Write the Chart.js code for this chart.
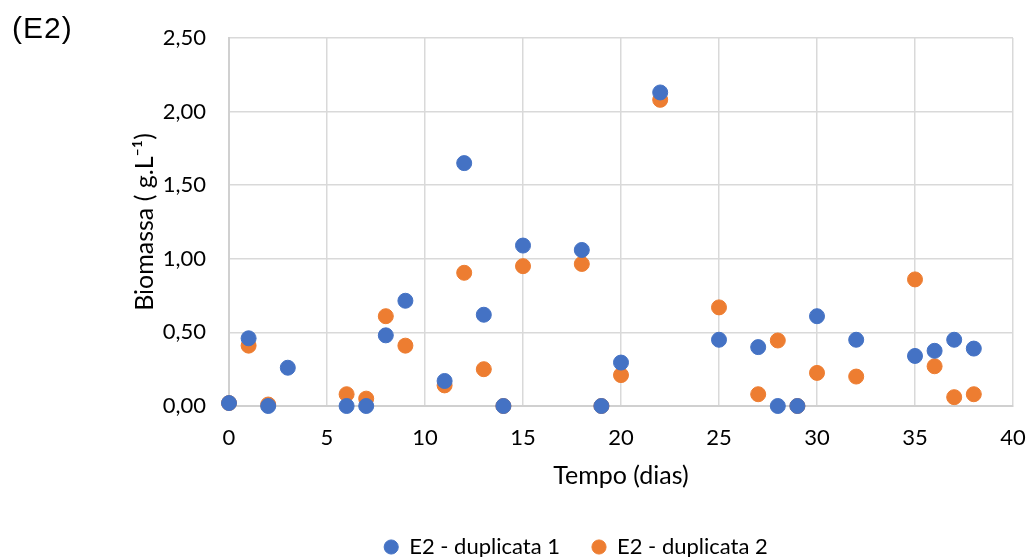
<!DOCTYPE html>
<html>
<head>
<meta charset="utf-8">
<script src="https://cdn.jsdelivr.net/npm/chart.js@4/dist/chart.umd.min.js"></script>
<style>
html, body { margin: 0; padding: 0; background: #fff; }
#wrap { position: relative; width: 1032px; height: 557px; }
#tag { position: absolute; left: 12px; top: 11px; font: 30px "Liberation Sans", Arial, sans-serif; color: #000; letter-spacing: 1px; }
</style>
</head>
<body>
<div id="wrap">
  <canvas id="chart" width="1032" height="557"></canvas>
  <div id="tag">(E2)</div>
</div>
<script>
// days of sampling and biomass (g/L) for the two duplicates
const days = [0, 1, 2, 3, 6, 7, 8, 9, 11, 12, 13, 14, 15, 18, 19, 20, 22, 25, 27, 28, 29, 30, 32, 35, 36, 37, 38];
const dup1 = [0.02, 0.46, 0.00, 0.26, 0.00, 0.00, 0.48, 0.715, 0.17, 1.65, 0.62, 0.00, 1.09, 1.06, 0.00, 0.295, 2.13, 0.45, 0.40, 0.00, 0.00, 0.61, 0.45, 0.34, 0.375, 0.45, 0.39];
const dup2 = [0.02, 0.41, 0.01, null, 0.08, 0.05, 0.61, 0.41, 0.14, 0.905, 0.25, 0.00, 0.95, 0.965, 0.00, 0.21, 2.08, 0.67, 0.08, 0.445, 0.00, 0.225, 0.20, 0.86, 0.27, 0.06, 0.08];
const seriesNames = ['E2 - duplicata 1', 'E2 - duplicata 2'];
const xTicks = [0, 5, 10, 15, 20, 25, 30, 35, 40];
const yTicks = [0, 0.5, 1, 1.5, 2, 2.5];

const font = 'Lato';
const toPoints = vals => days.map((d, i) => ({ x: d, y: vals[i] })).filter(p => p.y !== null);

new Chart(document.getElementById('chart'), {
  type: 'scatter',
  data: {
    datasets: [
      { label: seriesNames[0], data: toPoints(dup1), backgroundColor: '#4472C4', borderColor: '#4472C4', pointRadius: 7.5, pointHoverRadius: 7.5, clip: false },
      { label: seriesNames[1], data: toPoints(dup2), backgroundColor: '#ED7D31', borderColor: '#ED7D31', pointRadius: 7.5, pointHoverRadius: 7.5, clip: false }
    ]
  },
  options: {
    responsive: false,
    animation: false,
    // left padding also pushes the centred legend to the right, like the original
    layout: { padding: { top: 38, right: 0, left: 120, bottom: -11 } },
    plugins: {
      tooltip: { enabled: false },
      legend: {
        position: 'bottom',
        labels: {
          usePointStyle: true, pointStyle: 'circle', boxWidth: 14, boxHeight: 10,
          padding: 32, color: '#000', font: { family: font, size: 22 }
        }
      }
    },
    scales: {
      x: {
        type: 'linear', min: 0, max: 40,
        afterBuildTicks: s => { s.ticks = xTicks.map(v => ({ value: v })); },
        afterFit: s => { s.height = 98; s.paddingRight = 19; s.paddingLeft = 0; },
        grid: { color: '#d9d9d9', lineWidth: 1.5, drawTicks: false },
        border: { color: '#d0d0d0', width: 2 },
        ticks: { padding: 19, color: '#000', font: { family: font, size: 22 }, maxRotation: 0 },
        title: { display: true, text: 'Tempo (dias)', color: '#000', font: { family: font, size: 25 }, padding: { top: 0, bottom: 13 } }
      },
      y: {
        min: 0, max: 2.5,
        afterBuildTicks: s => { s.ticks = yTicks.map(v => ({ value: v })); },
        afterFit: s => { s.width = 109; },
        grid: { color: '#d9d9d9', lineWidth: 1.5, drawTicks: false },
        border: { color: '#d0d0d0', width: 2 },
        ticks: { padding: 23, color: '#000', font: { family: font, size: 22 }, callback: v => v.toFixed(2).replace('.', ',') },
        title: { display: true, text: 'Biomassa ( g.L\u207B\u00B9)', color: '#000', font: { family: font, size: 25 }, padding: { top: 10, bottom: 0 } }
      }
    }
  }
});
</script>
</body>
</html>
